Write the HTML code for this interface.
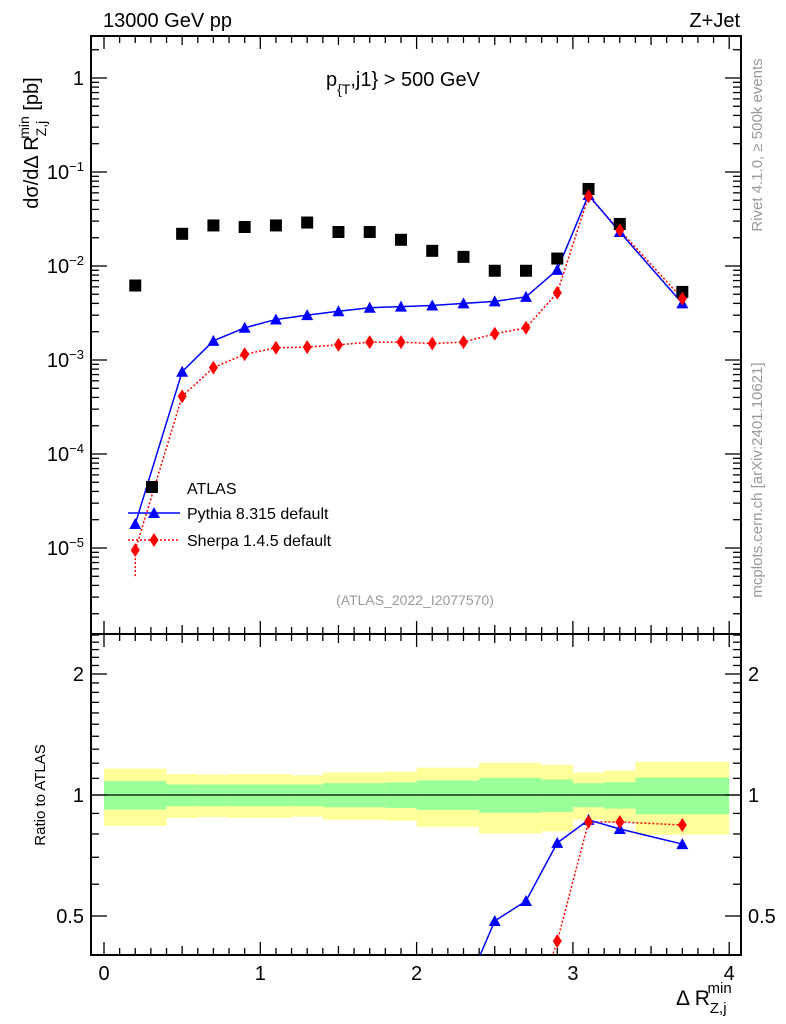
<!DOCTYPE html>
<html><head><meta charset="utf-8"><style>
body{margin:0;background:#fff}
svg{display:block;font-family:"Liberation Sans","DejaVu Sans",sans-serif}
</style></head><body>
<svg id="c" width="786" height="1024" viewBox="0 0 786 1024">
<text x="103" y="27" font-size="20">13000 GeV pp</text>
<text x="740" y="27" font-size="20" text-anchor="end">Z+Jet</text>
<text x="326" y="86" font-size="20">p<tspan font-size="14" dy="8">{T</tspan><tspan dy="-8">,j1} &gt; 500 GeV</tspan></text>
<text transform="translate(762,145) rotate(-90)" font-size="15" fill="#999" text-anchor="middle">Rivet 4.1.0, ≥ 500k events</text>
<text transform="translate(762,480) rotate(-90)" font-size="15" fill="#999" text-anchor="middle">mcplots.cern.ch [arXiv:2401.10621]</text>
<text x="415" y="605" font-size="14" fill="#999" text-anchor="middle">(ATLAS_2022_I2077570)</text>
<text transform="translate(38,143) rotate(-90)" font-size="20" text-anchor="middle">dσ/dΔ R<tspan font-size="14" dy="8">Z,j</tspan><tspan font-size="14" dx="-18" dy="-17">min</tspan><tspan dy="9"> [pb]</tspan></text>
<text transform="translate(45,795) rotate(-90)" font-size="15" text-anchor="middle">Ratio to ATLAS</text>
<text x="676" y="1005" font-size="21">Δ R<tspan font-size="15" dy="8">Z,j</tspan><tspan font-size="15" dx="-19" dy="-20">min</tspan></text>
<g id="g"></g>
</svg>
<script>
const xs=[0.2,0.5,0.7,0.9,1.1,1.3,1.5,1.7,1.9,2.1,2.3,2.5,2.7,2.9,3.1,3.3,3.7];
const atlas=[6.2e-3,2.2e-2,2.7e-2,2.6e-2,2.7e-2,2.9e-2,2.3e-2,2.3e-2,1.9e-2,1.45e-2,1.25e-2,8.9e-3,8.9e-3,1.2e-2,6.6e-2,2.8e-2,5.3e-3];
const pythia=[1.8e-5,7.5e-4,1.6e-3,2.2e-3,2.7e-3,3.0e-3,3.3e-3,3.6e-3,3.7e-3,3.8e-3,4.0e-3,4.2e-3,4.7e-3,9.1e-3,5.7e-2,2.3e-2,4.0e-3];
const sherpa=[9.5e-6,4.1e-4,8.3e-4,1.15e-3,1.35e-3,1.37e-3,1.45e-3,1.55e-3,1.55e-3,1.5e-3,1.55e-3,1.9e-3,2.2e-3,5.2e-3,5.5e-2,2.4e-2,4.5e-3];
const rX=[2.3,2.5,2.7,2.9,3.1,3.3,3.7];
const rPythia=[0.32,0.486,0.545,0.76,0.867,0.823,0.755];
const rSX=[2.7,2.9,3.1,3.3,3.7];
const rSherpa=[0.25,0.433,0.857,0.857,0.842];
const edges=[0,0.4,0.6,0.8,1.2,1.4,1.8,2.0,2.4,2.8,3.0,3.2,3.4,4.0];
const yelUp=[1.163,1.128,1.124,1.128,1.120,1.137,1.144,1.170,1.201,1.188,1.137,1.150,1.208];
const yelDn=[0.837,0.876,0.881,0.876,0.883,0.868,0.863,0.833,0.802,0.812,0.868,0.858,0.797];
const grUp=[1.083,1.062,1.062,1.062,1.062,1.070,1.074,1.087,1.103,1.093,1.070,1.076,1.105];
const grDn=[0.920,0.938,0.938,0.938,0.938,0.932,0.929,0.918,0.903,0.908,0.932,0.925,0.896];
const xTicks=[0,1,2,3,4];
const yTicks=[1,0.1,0.01,1e-3,1e-4,1e-5];
const yTickLbl=['1','10<tspan dy="-8" font-size="13">−1</tspan>','10<tspan dy="-8" font-size="13">−2</tspan>','10<tspan dy="-8" font-size="13">−3</tspan>','10<tspan dy="-8" font-size="13">−4</tspan>','10<tspan dy="-8" font-size="13">−5</tspan>'];
const rTicks=[0.5,1,2];
const L=91,R=741,T=36,M=634,B=955;
const X=v=>104+v*156.3;
const Y=v=>78-Math.log10(v)*94;
const RY=v=>795-Math.log10(v)*402;
const g=document.getElementById('g');const NS='http://www.w3.org/2000/svg';
function el(t,a,p){const e=document.createElementNS(NS,t);for(const k in a)e.setAttribute(k,a[k]);(p||g).appendChild(e);return e;}
const defs=el('defs',{});
const c1=el('clipPath',{id:'ct'},defs);el('rect',{x:L,y:T,width:R-L,height:M-T},c1);
const c2=el('clipPath',{id:'cb'},defs);el('rect',{x:L,y:M,width:R-L,height:B-M},c2);
const bg=el('g',{'clip-path':'url(#cb)'});
for(let i=0;i<edges.length-1;i++){
 const y=el('rect',{x:X(edges[i]),width:X(edges[i+1])-X(edges[i]),y:RY(yelUp[i]),height:RY(yelDn[i])-RY(yelUp[i]),fill:'#ffff99'},bg);
 
 
 const gr=el('rect',{x:X(edges[i]),width:X(edges[i+1])-X(edges[i]),y:RY(grUp[i]),height:RY(grDn[i])-RY(grUp[i]),fill:'#99ff99'},bg);
 
 
}
el('line',{x1:L,x2:R,y1:RY(1),y2:RY(1),stroke:'#000','stroke-width':1.2},bg);
el('rect',{x:L,y:T,width:R-L,height:M-T,fill:'none',stroke:'#000','stroke-width':2});
el('rect',{x:L,y:M,width:R-L,height:B-M,fill:'none',stroke:'#000','stroke-width':2});
for(let k=0;k<=40;k++){const v=k/10,x=X(v),maj=k%10==0,len=maj?13:(k%5==0?9:7);
 for(const [y0,d] of [[T,1],[M,-1],[M,1],[B,-1]])el('line',{x1:x,x2:x,y1:y0,y2:y0+d*len,stroke:'#000','stroke-width':1.3});}
xTicks.forEach(v=>{const t=el('text',{x:X(v),y:980,'font-size':20,'text-anchor':'middle'});t.textContent=v;
 
 });
for(let d=-6;d<=1;d++)for(let m=1;m<10;m++){const v=m*Math.pow(10,d),y=Y(v);if(y<T||y>M)continue;const len=m==1?16:8;
 el('line',{x1:L,x2:L+len,y1:y,y2:y,stroke:'#000','stroke-width':1.3});el('line',{x1:R,x2:R-len,y1:y,y2:y,stroke:'#000','stroke-width':1.3});}
yTicks.forEach((v,i)=>{const t=el('text',{x:84,y:Y(v)+7,'font-size':20,'text-anchor':'end'});t.innerHTML=yTickLbl[i];
 
 });
for(let v=0.4;v<=2.55;v+=0.1){const y=RY(v);if(y<M||y>B)continue;const maj=[0.5,1,2].some(q=>Math.abs(q-v)<1e-6);const len=maj?16:8;
 el('line',{x1:L,x2:L+len,y1:y,y2:y,stroke:'#000','stroke-width':1.3});el('line',{x1:R,x2:R-len,y1:y,y2:y,stroke:'#000','stroke-width':1.3});}
rTicks.forEach(v=>{for(const [x,a] of [[84,'end'],[748,'start']]){const t=el('text',{x:x,y:RY(v)+7,'font-size':20,'text-anchor':a});t.textContent=v;
 
 }});
function tri(x,y,c,p){return el('polygon',{points:`${x-6},${y+5} ${x+6},${y+5} ${x},${y-6}`,fill:c},p);}
function dia(x,y,c,p){return el('polygon',{points:`${x},${y-7} ${x+4.5},${y} ${x},${y+7} ${x-4.5},${y}`,fill:c},p);}
const topG=el('g',{'clip-path':'url(#ct)'});
el('polyline',{points:xs.map((x,i)=>X(x)+','+Y(sherpa[i])).join(' '),fill:'none',stroke:'#f00','stroke-width':1.5,'stroke-dasharray':'2,2'},topG);
el('line',{x1:X(0.2),x2:X(0.2),y1:Y(sherpa[0]),y2:578,stroke:'#f00','stroke-width':1.5,'stroke-dasharray':'2,2'},topG);
el('polyline',{points:xs.map((x,i)=>X(x)+','+Y(pythia[i])).join(' '),fill:'none',stroke:'#00f','stroke-width':1.5},topG);
xs.forEach((x,i)=>{
 const a=el('rect',{x:X(x)-6,y:Y(atlas[i])-6,width:12,height:12,fill:'#000'},topG);
 
 
 const p=tri(X(x),Y(pythia[i]),'#00f',topG);
 
 
 const s=dia(X(x),Y(sherpa[i]),'#f00',topG);
 
 
});
const botG=el('g',{'clip-path':'url(#cb)'});
el('polyline',{points:rSX.map((x,i)=>X(x)+','+RY(rSherpa[i])).join(' '),fill:'none',stroke:'#f00','stroke-width':1.5,'stroke-dasharray':'2,2'},botG);
el('polyline',{points:rX.map((x,i)=>X(x)+','+RY(rPythia[i])).join(' '),fill:'none',stroke:'#00f','stroke-width':1.5},botG);
rX.forEach((x,i)=>{const p=tri(X(x),RY(rPythia[i]),'#00f',botG);
 
 });
rSX.forEach((x,i)=>{const s=dia(X(x),RY(rSherpa[i]),'#f00',botG);
 
 });
const lg=el('g',{});


el('rect',{x:146,y:481,width:12,height:12,fill:'#000'},lg);
let lt=el('text',{x:187,y:494,'font-size':16},lg);lt.textContent='ATLAS';
el('line',{x1:128,x2:180,y1:513,y2:513,stroke:'#00f','stroke-width':1.5},lg);tri(154,513,'#00f',lg);
lt=el('text',{x:187,y:519,'font-size':16},lg);lt.textContent='Pythia 8.315 default';
el('line',{x1:128,x2:180,y1:540,y2:540,stroke:'#f00','stroke-width':1.5,'stroke-dasharray':'2,2'},lg);dia(154,540,'#f00',lg);
lt=el('text',{x:187,y:546,'font-size':16},lg);lt.textContent='Sherpa 1.4.5 default';
</script>
</body></html>
